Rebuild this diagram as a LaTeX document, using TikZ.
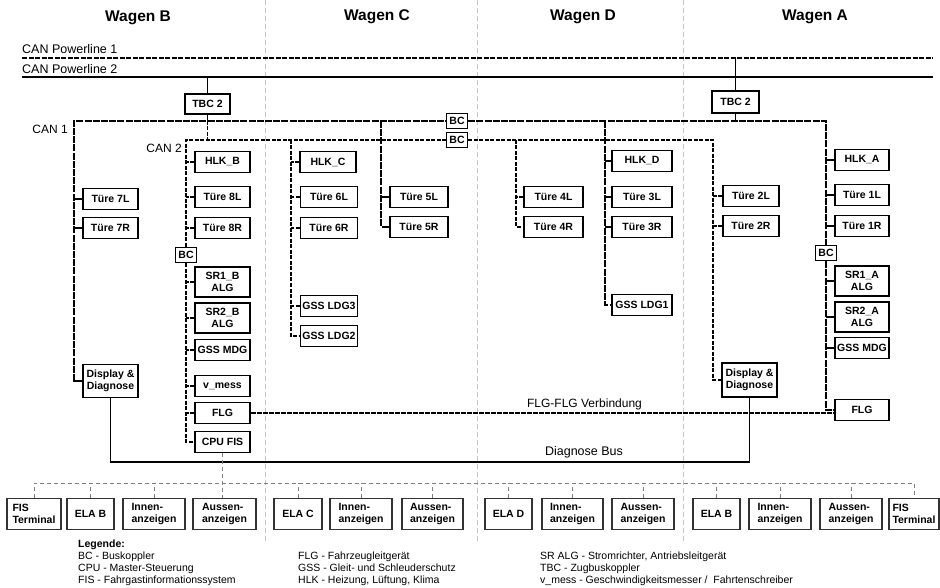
\documentclass[tikz,border=0pt]{standalone}
\usepackage{fontspec}
\setmainfont{Liberation Sans}
\tikzstyle{device} = [rectangle, draw=black, line width=1.5pt, fill=white, minimum width=55pt, minimum height=21pt, inner sep=1pt, align=center, font=\bfseries\fontsize{10.5}{12}\selectfont]
\tikzstyle{coupler} = [rectangle, draw=black, line width=1.5pt, fill=white, minimum width=21pt, minimum height=15pt, inner sep=0.5pt, font=\bfseries\fontsize{10.5}{12}\selectfont]
\tikzstyle{outbox} = [rectangle, draw=black!80, line width=1.1pt, minimum height=31pt, inner sep=1pt, align=left, font=\bfseries\fontsize{10.5}{12.5}\selectfont]
\tikzstyle{wagontitle} = [inner sep=0, font=\bfseries\fontsize{15.5}{18}\selectfont]
\tikzstyle{buslabel} = [inner sep=0, font=\fontsize{12.5}{14}\selectfont]
\tikzstyle{legendtext} = [inner sep=0, anchor=north west, align=left, font=\fontsize{10.5}{12}\selectfont]
\tikzstyle{powerone} = [line width=1.8pt, dash pattern=on 5pt off 1.5pt]
\tikzstyle{powertwo} = [line width=1.8pt]
\tikzstyle{canone} = [line width=1.7pt, dash pattern=on 7pt off 1.2pt]
\tikzstyle{cantwo} = [line width=1.5pt, dash pattern=on 4pt off 1.5pt]
\tikzstyle{diagbus} = [line width=1.7pt]
\tikzstyle{flglink} = [line width=1.3pt, dash pattern=on 5pt off 1pt]
\tikzstyle{fisbus} = [line width=0.9pt, gray, dash pattern=on 4pt off 3pt]
\tikzstyle{divider} = [line width=1pt, gray!45, dash pattern=on 5pt off 3pt]

\begin{document}
\begin{tikzpicture}[x=1pt, y=-1pt]
\useasboundingbox (0,0) rectangle (940,588);

% Wagen dividers
\foreach \x in {265,477,683} \draw [divider] (\x,0) -- (\x,543);

% Titles
\node (titleB) [wagontitle] at (138,18) {Wagen B};
\node (titleC) [wagontitle] at (377,17) {Wagen C};
\node (titleD) [wagontitle] at (583,17) {Wagen D};
\node (titleA) [wagontitle] at (815,17) {Wagen A};

% Power lines
\coordinate (pl1W) at (22,58);
\coordinate (pl1E) at (933,58);
\coordinate (pl2W) at (22,77);
\coordinate (pl2E) at (933,77);
\draw [powerone] (pl1W) -- (pl1E);
\draw [powertwo] (pl2W) -- (pl2E);
\node (pl1label) [buslabel, anchor=base west] at (22,53.5) {CAN Powerline 1};
\node (pl2label) [buslabel, anchor=base west] at (22,73.5) {CAN Powerline 2};

% Nodes - Wagen B
\node (tbcB) [device, minimum width=45pt, minimum height=20pt] at (207.5,104) {TBC 2};
\node (t7L) [device] at (110.5,199) {Türe 7L};
\node (t7R) [device] at (110.5,228) {Türe 7R};
\node (disB) [device, minimum height=33pt] at (110.5,381) {Display \&\\Diagnose};
\node (hlkB) [device] at (222.5,162) {HLK\_B};
\node (t8L) [device] at (222.5,197) {Türe 8L};
\node (t8R) [device] at (222.5,228) {Türe 8R};
\node (bcB) [coupler] at (186,255) {BC};
\node (sr1B) [device, minimum height=30pt] at (222.5,282) {SR1\_B\\ALG};
\node (sr2B) [device, minimum height=30pt] at (222.5,318) {SR2\_B\\ALG};
\node (gssB) [device] at (222.5,350) {GSS MDG};
\node (vB) [device] at (222.5,386) {v\_mess};
\node (flgB) [device] at (222.5,413) {FLG};
\node (cpuB) [device] at (222.5,442) {CPU FIS};

% Nodes - Wagen C
\node (hlkC) [device, minimum width=56pt] at (328,162) {HLK\_C};
\node (t6L) [device, minimum width=57pt] at (329,197) {Türe 6L};
\node (t6R) [device, minimum width=57pt] at (329,228) {Türe 6R};
\node (ldg3) [device, minimum width=57pt] at (329,306) {GSS LDG3};
\node (ldg2) [device, minimum width=57pt] at (329,336) {GSS LDG2};
\node (t5L) [device, minimum width=58pt] at (419,197) {Türe 5L};
\node (t5R) [device, minimum width=58pt] at (419,227) {Türe 5R};
\node (bc1) [coupler] at (457,121) {BC};
\node (bc2) [coupler] at (457,140) {BC};

% Nodes - Wagen D
\node (t4L) [device, minimum width=59pt] at (553.5,197) {Türe 4L};
\node (t4R) [device, minimum width=59pt] at (553.5,227) {Türe 4R};
\node (hlkD) [device, minimum width=60pt] at (642,161) {HLK\_D};
\node (t3L) [device, minimum width=60pt] at (642,197) {Türe 3L};
\node (t3R) [device, minimum width=60pt] at (642,227) {Türe 3R};
\node (ldg1) [device, minimum width=60pt] at (642,305) {GSS LDG1};

% Nodes - Wagen A
\node (tbcA) [device, minimum width=47pt, minimum height=22pt] at (735.5,102) {TBC 2};
\node (t2L) [device, minimum width=56pt] at (751,196) {Türe 2L};
\node (t2R) [device, minimum width=56pt] at (751,226) {Türe 2R};
\node (disA) [device, minimum height=34pt] at (749.5,380) {Display \&\\Diagnose};
\node (hlkA) [device, minimum width=54pt] at (862,160) {HLK\_A};
\node (t1L) [device, minimum width=54pt] at (862,195) {Türe 1L};
\node (t1R) [device, minimum width=54pt] at (862,226) {Türe 1R};
\node (bcA) [coupler] at (826,253) {BC};
\node (sr1A) [device, minimum width=54pt, minimum height=30pt] at (862,281) {SR1\_A\\ALG};
\node (sr2A) [device, minimum width=54pt, minimum height=30pt] at (862,317) {SR2\_A\\ALG};
\node (gssA) [device, minimum width=54pt] at (862,348) {GSS MDG};
\node (flgA) [device, minimum width=54pt] at (862,410) {FLG};

% Displays and terminals
\node (fisL) [outbox, minimum width=54pt] at (34,514) {FIS\\Terminal};
\node (elaB) [outbox, minimum width=47pt] at (90.5,514) {ELA B};
\node (innB) [outbox, minimum width=62pt] at (154,514) {Innen-\\anzeigen};
\node (ausB) [outbox, minimum width=63pt] at (224.5,514) {Aussen-\\anzeigen};
\node (elaC) [outbox, minimum width=48pt] at (298,514) {ELA C};
\node (innC) [outbox, minimum width=62pt] at (361,514) {Innen-\\anzeigen};
\node (ausC) [outbox, minimum width=61pt] at (432.5,514) {Aussen-\\anzeigen};
\node (elaD) [outbox, minimum width=47pt] at (508.5,514) {ELA D};
\node (innD) [outbox, minimum width=61pt] at (572.5,514) {Innen-\\anzeigen};
\node (ausD) [outbox, minimum width=62pt] at (643,514) {Aussen-\\anzeigen};
\node (elaA) [outbox, minimum width=47pt] at (716.5,514) {ELA B};
\node (innA) [outbox, minimum width=62pt] at (780,514) {Innen-\\anzeigen};
\node (ausA) [outbox, minimum width=62pt] at (851,514) {Aussen-\\anzeigen};
\node (fisR) [outbox, minimum width=50pt] at (914,514) {FIS\\Terminal};

% Connections to power lines
\draw [powertwo] (tbcB.north |- pl2W) -- (tbcB.north);
\draw [powertwo] (tbcA.north |- pl1W) -- (tbcA.north);

% CAN 1
\coordinate (c1W) at (74,121);
\coordinate (c1C) at (381,121);
\coordinate (c1D) at (605,121);
\coordinate (c1E) at (826,121);
\draw [canone] (disB.west) -| (c1W) -- (bc1.west);
\draw [canone] (bc1.east) -- (c1E) -- (bcA.north);
\draw [canone] (bcA.south) |- (flgA.west);
\draw [canone] (tbcB.south) -- (tbcB.south |- c1W);
\draw [canone] (tbcA.south) -- (tbcA.south |- c1E);
\draw [canone] (c1C) |- (t5R.west);
\draw [canone] (c1D) |- (ldg1.west);
\foreach \n in {t7L,t7R} \draw [canone] (\n.west) -- (\n.west -| c1W);
\draw [canone] (t5L.west) -- (t5L.west -| c1C);
\foreach \n in {hlkD,t3L,t3R} \draw [canone] (\n.west) -- (\n.west -| c1D);
\foreach \n in {hlkA,t1L,t1R,sr1A,sr2A,gssA} \draw [canone] (\n.west) -- (\n.west -| c1E);
\node (can1label) [buslabel, anchor=east, font=\fontsize{12}{14}\selectfont] at (68,129) {CAN 1};

% CAN 2
\coordinate (c2W) at (186,140);
\coordinate (c2C) at (291,140);
\coordinate (c2D) at (516,140);
\coordinate (c2E) at (713,140);
\draw [cantwo] (bcB.north) -- (c2W) -- (bc2.west);
\draw [cantwo] (bcB.south) |- (cpuB.west);
\draw [cantwo] (bc2.east) -- (c2E) |- (disA.west);
\draw [cantwo] (tbcB.south |- c1W) -- (tbcB.south |- c2W);
\draw [cantwo] (c2C) |- (ldg2.west);
\draw [cantwo] (c2D) |- (t4R.west);
\foreach \n in {hlkB,t8L,t8R,sr1B,sr2B,gssB,vB,flgB} \draw [cantwo] (\n.west) -- (\n.west -| c2W);
\foreach \n in {hlkC,t6L,t6R,ldg3} \draw [cantwo] (\n.west) -- (\n.west -| c2C);
\draw [cantwo] (t4L.west) -- (t4L.west -| c2D);
\foreach \n in {t2L,t2R} \draw [cantwo] (\n.west) -- (\n.west -| c2E);
\node (can2label) [buslabel, anchor=east, font=\fontsize{12}{14}\selectfont] at (182,148) {CAN 2};

% FLG-FLG Verbindung
\draw [flglink] (flgB.east) -- (flgB.east -| flgA.west);
\node (flglabel) [buslabel, font=\fontsize{12}{14}\selectfont] at (584.5,404) {FLG-FLG Verbindung};

% Diagnose Bus
\coordinate (dbus) at (0,462);
\draw [diagbus] (disB.south) -- (disB.south |- dbus) -| (disA.south);
\node (dbuslabel) [buslabel] at (584,452) {Diagnose Bus};

% FIS bus
\coordinate (fbus) at (0,483);
\draw [fisbus] (fisL.north) -- (fisL.north |- fbus) -- (fisR.north |- fbus) -- (fisR.north);
\draw [fisbus] (cpuB.south) -- (cpuB.south |- ausB.north);
\foreach \n in {elaB,innB,elaC,innC,ausC,elaD,innD,ausD,elaA,innA,ausA} \draw [fisbus] (\n.north) -- (\n.north |- fbus);

% Legend
\node (legB) [legendtext] at (78,540) {\textbf{Legende:}\\BC - Buskoppler\\CPU - Master-Steuerung\\FIS - Fahrgastinformationssystem};
\node (legC) [legendtext] at (298,552) {FLG - Fahrzeugleitgerät\\GSS - Gleit- und Schleuderschutz\\HLK - Heizung, Lüftung, Klima};
\node (legD) [legendtext] at (540,552) {SR ALG - Stromrichter, Antriebsleitgerät\\TBC - Zugbuskoppler\\v\_mess - Geschwindigkeitsmesser /\ \ Fahrtenschreiber};

\end{tikzpicture}
\end{document}
